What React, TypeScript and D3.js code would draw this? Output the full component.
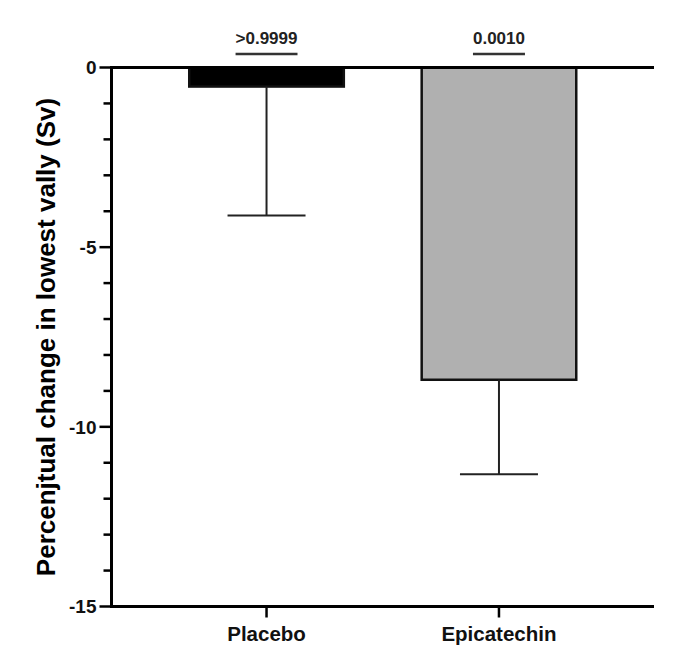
import {useEffect, useRef} from "react";
import * as d3 from "d3";

const groups = ["Placebo", "Epicatechin"];
const means = [-0.53, -8.69];
const errors = [3.59, 2.63];
const pValues = [">0.9999", "0.0010"];
const barFills = ["#000000", "#b0b0b0"];
const majorTicks = [0, -5, -10, -15];
const yLabel = "Percenjtual change in lowest vally (Sv)";

const W = 689;
const H = 648;
const FONT = "'Liberation Sans', Arial, Helvetica, sans-serif";

const App = () => {
    const ref = useRef(null);

    useEffect(() => {
        const svg = d3.select(ref.current);
        svg.selectAll("*").remove();

        const left = 111.5, right = 654, top = 67.5, bottom = 606.5;

        const y = d3.scaleLinear().domain([0, -15]).range([top, bottom]);
        const x = d3.scalePoint().domain(groups).range([left, right]).padding(0.667);
        const barW = x.step() * 0.665;
        const capW = 78;

        const g = svg.append("g");

        // bars
        groups.forEach((name, i) => {
            const cx = x(name)!;
            g.append("rect")
                .attr("x", cx - barW / 2)
                .attr("y", y(0))
                .attr("width", barW)
                .attr("height", y(means[i]) - y(0))
                .attr("fill", barFills[i])
                .attr("stroke", "#111")
                .attr("stroke-width", 2.5);

            // error bar (downward only)
            const yEnd = y(means[i] - errors[i]);
            g.append("line")
                .attr("x1", cx).attr("x2", cx)
                .attr("y1", y(means[i])).attr("y2", yEnd)
                .attr("stroke", "#222").attr("stroke-width", 2);
            g.append("line")
                .attr("x1", cx - capW / 2).attr("x2", cx + capW / 2)
                .attr("y1", yEnd).attr("y2", yEnd)
                .attr("stroke", "#222").attr("stroke-width", 2);

            // p value
            const t = g.append("text")
                .attr("x", cx)
                .attr("y", 43.5)
                .attr("text-anchor", "middle")
                .attr("font-family", FONT)
                .attr("font-weight", "bold")
                .attr("font-size", 17)
                .attr("fill", "#222")
                .text(pValues[i]);
            const tw = (t.node() as SVGTextElement).getComputedTextLength();
            g.append("line")
                .attr("x1", cx - tw / 2).attr("x2", cx + tw / 2)
                .attr("y1", 54).attr("y2", 54)
                .attr("stroke", "#333").attr("stroke-width", 2.5);
        });

        // zero line
        g.append("line")
            .attr("x1", left).attr("x2", right)
            .attr("y1", y(0)).attr("y2", y(0))
            .attr("stroke", "#000").attr("stroke-width", 3);

        // y axis
        const yAxis = g.append("g").attr("transform", `translate(${left},0)`);
        yAxis.append("line")
            .attr("x1", 0).attr("x2", 0)
            .attr("y1", y(0) - 1.5).attr("y2", y(-15) + 1.5)
            .attr("stroke", "#000").attr("stroke-width", 3);
        yAxis.selectAll(".minor")
            .data(d3.range(0, -16, -1))
            .enter()
            .append("line")
            .attr("x1", (d) => (majorTicks.includes(d) ? -12 : -8))
            .attr("x2", 0)
            .attr("y1", (d) => y(d)).attr("y2", (d) => y(d))
            .attr("stroke", "#000").attr("stroke-width", 2.5);
        yAxis.selectAll(".lbl")
            .data(majorTicks)
            .enter()
            .append("text")
            .attr("x", -15)
            .attr("y", (d) => y(d))
            .attr("dy", "0.36em")
            .attr("text-anchor", "end")
            .attr("font-family", FONT)
            .attr("font-weight", "bold")
            .attr("font-size", 19)
            .attr("fill", "#111")
            .text((d) => String(d));

        // x axis
        const xAxis = g.append("g").attr("transform", `translate(0,${bottom})`);
        xAxis.append("line")
            .attr("x1", left).attr("x2", right)
            .attr("y1", 0).attr("y2", 0)
            .attr("stroke", "#000").attr("stroke-width", 3);
        xAxis.selectAll(".tick")
            .data(groups)
            .enter()
            .append("line")
            .attr("x1", (d) => x(d)!).attr("x2", (d) => x(d)!)
            .attr("y1", 0).attr("y2", 11)
            .attr("stroke", "#000").attr("stroke-width", 2.5);
        xAxis.selectAll(".lbl")
            .data(groups)
            .enter()
            .append("text")
            .attr("x", (d) => x(d)!)
            .attr("y", 34)
            .attr("text-anchor", "middle")
            .attr("font-family", FONT)
            .attr("font-weight", "bold")
            .attr("font-size", 20.5)
            .attr("fill", "#111")
            .text((d) => d);

        // y title
        svg.append("text")
            .attr("transform", `translate(55,${(top + bottom) / 2}) rotate(-90)`)
            .attr("text-anchor", "middle")
            .attr("font-family", FONT)
            .attr("font-weight", "bold")
            .attr("font-size", 26)
            .attr("fill", "#000")
            .text(yLabel);
    }, []);

    return (
        <div style={{position: "absolute", left: 0, top: 0}}>
            <svg ref={ref} width={W} height={H} style={{display: "block", background: "#fff"}}></svg>
        </div>
    );
};

export default App;
